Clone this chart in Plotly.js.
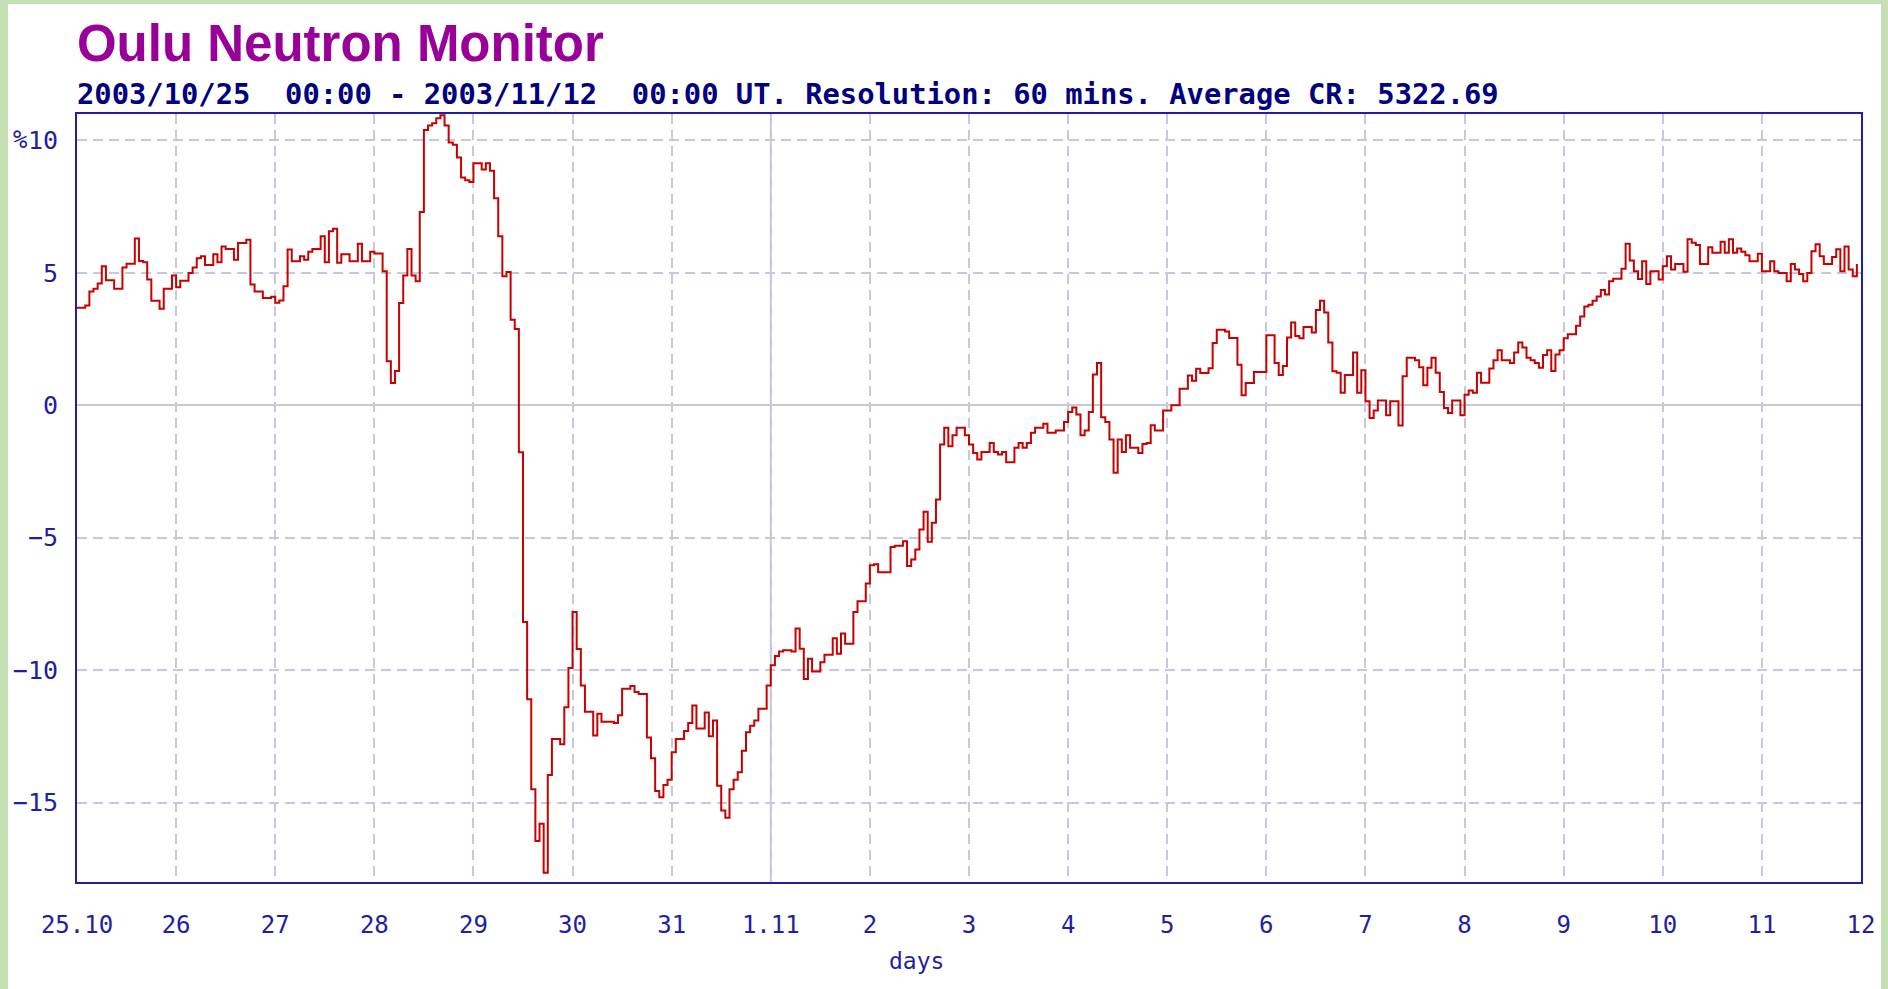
<!DOCTYPE html>
<html>
<head>
<meta charset="utf-8">
<script src="https://cdn.plot.ly/plotly-3.0.1.min.js"></script>
<style>
  html, body { margin: 0; padding: 0; width: 1888px; height: 989px; background: #c5dfb4; overflow: hidden; }
  #plot { position: absolute; left: 8px; top: 4px; width: 1873px; height: 985px; background: #ffffff; }
</style>
</head>
<body>
<div id="plot"></div>
<script>
// Hours since 2003/10/25 00:00 UT at which the hourly value changes (step data)
const hours = [
  0,2,3,4,5,6,7,9,11,12,14,15,16,17,18,20,21,23,24,25,27,28,29,30,31,33,34,35,36,38,39,41,42,43,45,47,48,49,50,
  51,52,54,55,56,57,59,60,61,62,63,64,66,68,69,71,72,74,75,76,77,78,79,80,81,82,83,84,85,86,87,88,89,90,91,92,93,
  94,95,96,98,99,100,101,102,103,104,105,106,107,108,109,110,111,112,113,114,115,117,118,119,120,121,122,123,125,
  126,127,130,131,132,134,135,136,138,139,140,141,142,143,144,145,147,148,149,150,152,153,154,155,156,157,158,159,
  160,161,162,163,164,165,167,168,169,170,171,173,174,175,176,177,178,180,181,183,184,185,186,188,189,191,192,193,
  194,197,198,200,201,202,203,204,205,206,207,208,209,210,211,212,213,215,216,217,218,219,221,222,223,224,225,227,
  228,229,230,231,232,234,235,237,239,240,241,242,243,244,245,246,247,248,249,250,251,252,253,254,255,257,258,259,
  260,261,263,265,267,269,270,271,272,274,275,276,278,279,281,282,283,285,288,290,291,292,293,294,295,296,297,299,
  300,301,302,303,304,305,306,307,309,310,311,312,313,314,315,317,318,320,321,322,324,325,326,327,328,329,330,331,
  332,333,335,336,337,338,339,340,342,343,344,345,347,348,349,350,351,352,353,354,355,356,357,358,359,360,361,363,
  364,365,366,367,368,369,370,371,372,374,375,376,377,378,379,380,381,383,384,385,386,387,389,390,391,392,393,395,
  396,398,399,400,401,402,403,404,405,407,408,410,411,412,414,415,416,417,418,419,420,421,422,423,425,426,427,428,
  429,430,431
];
// Cosmic ray intensity, % deviation from the period average
const percent = [
  3.68,3.77,4.3,4.4,4.6,5.25,4.72,4.4,5.2,5.35,6.3,5.45,5.4,4.75,3.95,3.65,4.4,4.9,4.46,4.7,5.0,5.2,5.55,5.63,5.3,5.7,5.4,6.0,5.9,5.5,6.13,6.25,4.56,4.3,4.05,4.1,3.87,3.96,4.5,
  5.88,5.44,5.63,5.5,5.8,5.9,6.38,5.4,6.57,6.67,5.38,5.7,5.44,6.1,5.44,5.8,5.73,5.06,1.66,0.84,1.3,3.86,4.9,5.9,4.9,4.68,7.3,10.4,10.57,10.65,10.84,10.95,10.57,9.92,9.84,9.36,8.6,
  8.5,8.43,9.14,8.9,9.14,8.86,7.82,6.38,4.87,5.03,3.23,2.88,-1.77,-8.18,-11.1,-14.5,-16.45,-15.8,-17.65,-13.96,-12.6,-12.8,-11.4,-9.92,-7.8,-9.2,-10.58,-11.57,-12.47,
  -11.65,-11.95,-12.0,-11.7,-10.7,-10.6,-10.83,-10.9,-12.54,-13.33,-14.56,-14.8,-14.34,-14.14,-13.1,-12.6,-12.3,-12.0,-11.34,-12.2,-11.6,-12.5,-11.9,-14.37,-15.3,-15.57,-14.5,-14.14,
  -13.86,-13.04,-12.35,-12.1,-11.9,-11.46,-10.58,-9.82,-9.47,-9.3,-9.25,-9.3,-8.43,-9.19,-10.33,-9.57,-10.05,-9.7,-9.42,-8.8,-9.38,-8.62,-9.0,-7.8,-7.4,-6.73,-6.04,-6.0,
  -6.3,-5.35,-5.3,-5.13,-6.07,-5.82,-5.44,-4.69,-4.02,-5.15,-4.43,-3.56,-1.48,-0.85,-1.55,-1.13,-0.85,-1.13,-1.48,-1.8,-2.05,-1.76,-1.42,-1.76,-1.86,-1.76,-2.15,-1.6,
  -1.42,-1.6,-1.42,-1.04,-0.85,-0.7,-1.04,-0.95,-0.63,-0.25,-0.08,-0.35,-1.13,-0.95,-0.25,1.16,1.6,-0.45,-0.63,-1.29,-2.55,-1.29,-1.76,-1.13,-1.6,-1.8,-1.46,-1.42,
  -0.75,-0.95,-0.2,0.0,0.63,1.13,0.93,1.38,1.22,1.4,2.35,2.85,2.79,2.54,1.53,0.38,0.84,1.26,2.65,1.6,1.14,1.48,2.56,3.13,2.62,2.53,2.96,2.75,
  3.6,3.95,3.5,2.37,1.29,1.23,0.47,1.14,1.99,0.47,1.32,0.15,-0.48,-0.2,0.18,-0.38,0.15,-0.76,1.1,1.8,1.7,1.44,0.76,1.42,1.8,1.23,0.5,-0.1,
  -0.29,0.18,-0.38,0.4,0.56,0.47,1.23,0.85,1.39,1.7,2.08,1.7,1.6,1.99,2.37,2.18,1.8,1.7,1.6,1.42,1.9,2.08,1.3,1.92,2.08,2.53,2.68,3.0,
  3.35,3.73,3.8,3.95,4.11,4.35,4.18,4.68,4.78,5.16,6.1,5.47,5.06,4.77,5.44,4.58,5.06,4.75,5.25,5.63,5.13,5.34,5.04,6.27,6.14,6.05,5.34,5.97,
  5.76,6.18,5.76,6.27,5.76,5.92,5.8,5.67,5.44,5.72,5.06,5.44,5.06,5.0,4.68,5.34,5.13,4.96,4.68,5.0,5.82,6.08,5.63,5.34,5.6,5.89,5.06,6.0,
  5.13,4.87,5.34
];
// Axis ticks
const dayTickValues = [0,1,2,3,4,5,6,7,8,9,10,11,12,13,14,15,16,17,18];
const dayTickLabels = ['25.10','26','27','28','29','30','31','1.11','2','3','4','5','6','7','8','9','10','11','12'];
const percentTicks = [-15,-10,-5,0,5,10];

const days = hours.map(h => h / 24);

const blue = '#1e1ea6';
const gridColor = '#c8c8dc';
const monoFont = 'DejaVu Sans Mono, Liberation Mono, monospace';

const trace = {
  x: days,
  y: percent,
  type: 'scatter',
  mode: 'lines',
  line: { shape: 'hv', color: '#c80000', width: 2 },
  hoverinfo: 'skip'
};

const layout = {
  width: 1873,
  height: 985,
  margin: { l: 69, r: 20, t: 110, b: 107 },
  paper_bgcolor: '#ffffff',
  plot_bgcolor: '#ffffff',
  showlegend: false,
  title: {
    text: '<b>Oulu Neutron Monitor</b>',
    font: { family: 'Liberation Sans, Arial, sans-serif', size: 51, color: '#990099' },
    xref: 'container', x: 0.0368, xanchor: 'left',
    yref: 'container', y: 0.978, yanchor: 'top'
  },
  xaxis: {
    range: [0, 18],
    tickmode: 'array', tickvals: dayTickValues, ticktext: dayTickLabels,
    tickfont: { family: monoFont, size: 24, color: blue },
    ticks: '', ticklabelstandoff: 20,
    showgrid: true, gridcolor: gridColor, gridwidth: 2, griddash: '10px,6px',
    zeroline: false,
    showline: true, mirror: true, linecolor: blue, linewidth: 2,
    fixedrange: true
  },
  yaxis: {
    range: [-18, 11],
    tickmode: 'array', tickvals: percentTicks,
    tickfont: { family: monoFont, size: 25, color: blue },
    ticks: '', ticklabelstandoff: 12,
    showgrid: true, gridcolor: gridColor, gridwidth: 2, griddash: '10px,6px',
    zeroline: true, zerolinecolor: gridColor, zerolinewidth: 2,
    showline: true, mirror: true, linecolor: blue, linewidth: 2,
    fixedrange: true
  },
  shapes: [
    { type: 'line', xref: 'x', yref: 'paper', x0: 7, x1: 7, y0: 0, y1: 1,
      line: { color: gridColor, width: 2 }, layer: 'below' }
  ],
  annotations: [
    {
      text: '<b>2003/10/25\u00a0\u00a000:00 - 2003/11/12\u00a0\u00a000:00 UT. Resolution: 60 mins. Average CR: 5322.69</b>',
      xref: 'paper', yref: 'paper', x: -0.0011, y: 1.026, xanchor: 'left', yanchor: 'middle',
      showarrow: false, font: { family: monoFont, size: 28.8, color: '#000080' }
    },
    {
      text: '%', xref: 'paper', yref: 'y', x: -0.0315, y: 10.0, xanchor: 'center', yanchor: 'middle',
      showarrow: false, font: { family: monoFont, size: 24, color: blue }
    },
    {
      text: 'days', xref: 'paper', yref: 'paper', x: 0.4703, y: -0.103, xanchor: 'center', yanchor: 'middle',
      showarrow: false, font: { family: monoFont, size: 23, color: blue }
    }
  ]
};

Plotly.newPlot('plot', [trace], layout, { staticPlot: true, displayModeBar: false });
</script>
</body>
</html>
